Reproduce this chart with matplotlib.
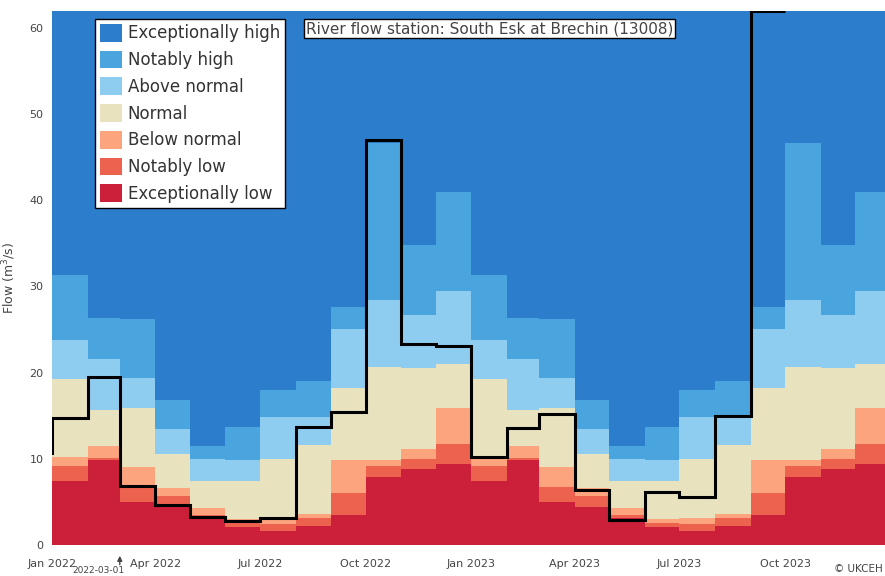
import numpy as np
import pandas as pd
import matplotlib
matplotlib.use("Agg")
import matplotlib.pyplot as plt
import matplotlib.dates as mdates
from matplotlib.patches import Patch

# Monthly band thresholds (upper edge of each category), Jan..Dec
exc_low_top = [7.4, 9.9, 5.0, 4.4, 3.1, 2.1, 1.6, 2.2, 3.5, 7.9, 8.8, 9.4]
not_low_top = [9.2, 10.05, 6.7, 5.7, 3.5, 2.5, 2.4, 3.1, 6.0, 9.2, 9.95, 11.7]
below_top = [10.2, 11.5, 9.0, 6.6, 4.3, 3.0, 3.1, 3.6, 9.9, 9.9, 11.1, 15.9]
normal_top = [19.3, 15.7, 15.9, 10.6, 7.4, 7.4, 10.0, 11.6, 18.2, 20.7, 20.5, 21.0]
above_top = [23.8, 21.6, 19.4, 13.5, 10.0, 9.9, 14.9, 14.9, 25.0, 28.4, 26.7, 29.5]
notably_high_top = [31.3, 26.3, 26.2, 16.8, 11.5, 13.7, 18.0, 19.0, 27.6, 46.6, 34.8, 41.0]

# Monthly mean flow, Dec 2021 .. Sep 2023
flow_start = "2021-12-01"
flow = [10.7, 14.7, 19.5, 6.8, 4.6, 3.3, 2.8, 3.1, 13.7, 15.4, 47.0, 23.3,
        23.1, 10.2, 13.6, 15.2, 6.4, 2.9, 6.1, 5.6, 15.0, 61.9]

categories = ["Exceptionally high", "Notably high", "Above normal", "Normal",
              "Below normal", "Notably low", "Exceptionally low"]
colors = ["#2D7DCD", "#4AA4DD", "#8FCDF0", "#E8E2BE",
          "#FCA47E", "#EC624E", "#CC1F3A"]

station = "River flow station: South Esk at Brechin (13008)"

# band edges: two years of months
band_edges = mdates.date2num(pd.date_range("2022-01-01", periods=25, freq="MS"))
layers = [np.zeros(12), exc_low_top, not_low_top, below_top, normal_top,
          above_top, notably_high_top, np.full(12, 100.0)]
layers = [np.tile(np.asarray(l, dtype=float), 2) for l in layers]

fig = plt.figure(figsize=(8.85, 5.76), dpi=100)
ax = fig.add_axes([52 / 885, 31 / 576, (885 - 52) / 885, (545 - 10.5) / 576])

# bottom-up: exceptionally low first
band_colors = colors[::-1]
for i in range(7):
    ax.stairs(layers[i + 1], band_edges, baseline=layers[i], fill=True,
              color=band_colors[i], linewidth=0)

flow_edges = mdates.date2num(pd.date_range(flow_start, periods=len(flow) + 1, freq="MS"))
ax.stairs(flow, flow_edges, baseline=None, color="black", linewidth=2.2, zorder=5)

ax.set_ylim(0, 62)
ax.set_xlim(mdates.date2num(pd.Timestamp("2022-01-01")),
            mdates.date2num(pd.Timestamp("2023-12-27")))
ax.set_yticks(range(0, 61, 10))
ticks = pd.date_range("2022-01-01", "2023-10-01", freq="QS")
ax.set_xticks(mdates.date2num(ticks))
ax.set_xticklabels([t.strftime("%b %Y") for t in ticks])
ax.tick_params(length=0, labelsize=8, colors="#444444", pad=10)
ax.tick_params(axis="y", pad=6)
for s in ax.spines.values():
    s.set_visible(False)
ax.set_ylabel("Flow (m$^3$/s)", fontsize=9, color="#444444", labelpad=8)

handles = [Patch(facecolor=c, edgecolor="none") for c in colors]
leg = ax.legend(handles, categories, loc="upper left",
                bbox_to_anchor=(95 / 885, 1 - 19 / 576),
                bbox_transform=fig.transFigure, borderaxespad=0,
                fontsize=12, frameon=True, fancybox=False,
                handlelength=1.3, handleheight=1.25, labelspacing=0.5,
                handletextpad=0.35, borderpad=0.3, labelcolor="#333333")
leg.get_frame().set_edgecolor("black")
leg.get_frame().set_linewidth(1.0)
leg.get_frame().set_facecolor("white")
leg.get_frame().set_alpha(1)

fig.text(306 / 885, 1 - 28.5 / 576, station, fontsize=11, color="#444444",
         va="center", ha="left",
         bbox=dict(boxstyle="square,pad=0.1", facecolor="white",
                   edgecolor="black", linewidth=1))

arrow_x = mdates.date2num(pd.Timestamp("2022-03-01"))
ax.annotate("", xy=(arrow_x, -0.015), xytext=(arrow_x, -0.042),
            xycoords=("data", "axes fraction"),
            arrowprops=dict(arrowstyle="-|>", color="#444444", lw=1,
                            mutation_scale=7))
fig.text(124 / 885, 1 / 576, "2022-03-01", fontsize=6.5, color="#444444",
         ha="right", va="bottom")
fig.text(883 / 885, 2 / 576, "© UKCEH", fontsize=7.5, color="#444444",
         ha="right", va="bottom")

fig.savefig("out.png", dpi=100)
